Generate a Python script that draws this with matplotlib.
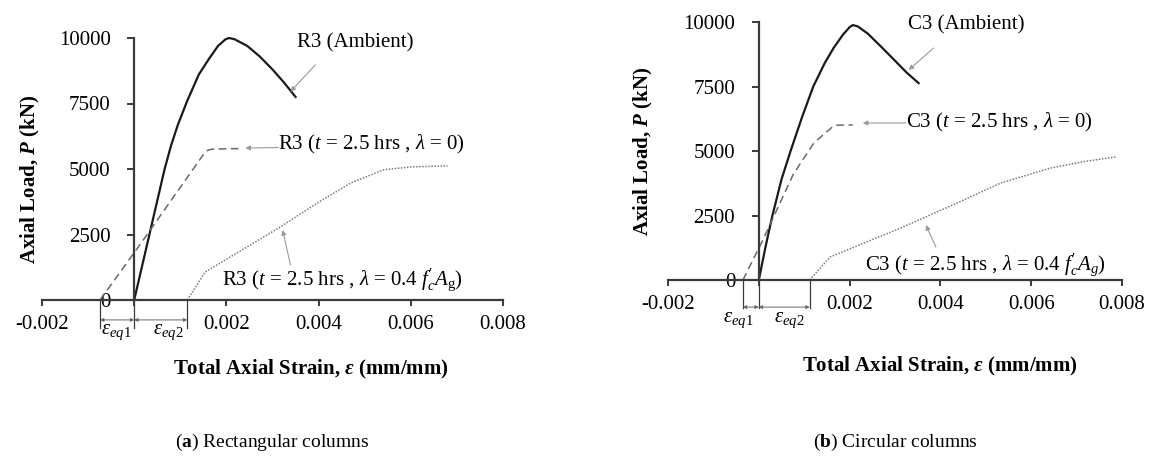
import numpy as np
import matplotlib.pyplot as plt

plt.rcParams['font.family'] = ['Liberation Serif', 'DejaVu Serif']
plt.rcParams['mathtext.fontset'] = 'custom'
plt.rcParams['mathtext.rm'] = 'Liberation Serif'
plt.rcParams['mathtext.it'] = 'Liberation Serif:italic'
plt.rcParams['mathtext.bf'] = 'Liberation Serif:bold'
plt.rcParams['mathtext.bfit'] = 'Liberation Serif:bold:italic'

# ---- data: strain (mm/mm), load (kN) ----
# (a) rectangular columns
r_amb_x = [0, 0.00033, 0.00066, 0.0008, 0.00095, 0.00115, 0.0014, 0.00162, 0.00182,
           0.00198, 0.00206, 0.00218, 0.00245, 0.00272, 0.003, 0.00325, 0.0035]
r_amb_y = [0, 2500, 5000, 5900, 6700, 7600, 8600, 9200, 9700,
           9950, 10000, 9950, 9700, 9300, 8800, 8300, 7750]
r_fire_x = [-0.00074, 0.0001, 0.001, 0.0015, 0.0016, 0.0017, 0.0023]
r_fire_y = [0, 2050, 4300, 5550, 5720, 5760, 5780]
r_load_x = [0.00115, 0.00154, 0.00252, 0.00317, 0.00398, 0.0047, 0.00541, 0.006, 0.0068]
r_load_y = [0, 1070, 2100, 2790, 3710, 4470, 4970, 5080, 5120]

# (b) circular columns
c_amb_x = [0, 0.00015, 0.0003, 0.0005, 0.0007, 0.00095, 0.0012, 0.00145, 0.00165, 0.00185,
           0.002, 0.00207, 0.00218, 0.0024, 0.00269, 0.003, 0.00325, 0.00352]
c_amb_y = [0, 1300, 2500, 3900, 5000, 6300, 7500, 8400, 9000, 9500,
           9800, 9880, 9830, 9550, 9050, 8500, 8050, 7630]
c_fire_x = [-0.00035, 0.00009, 0.00076, 0.00121, 0.0014, 0.0016, 0.0017, 0.00207]
c_fire_y = [0, 1550, 4100, 5300, 5600, 5900, 6000, 6010]
c_load_x = [0.00112, 0.00157, 0.00313, 0.0042, 0.00533, 0.00643, 0.0072, 0.00786]
c_load_y = [0, 890, 2020, 2850, 3760, 4340, 4600, 4770]

xticks = [-0.002, 0, 0.002, 0.004, 0.006, 0.008]
xticklabels = ['-0.002', '', '0.002', '0.004', '0.006', '0.008']
yticks = [0, 2500, 5000, 7500, 10000]
yticklabels = ['0', '2500', '5000', '7500', '10000']

AX = '#3a3a3a'
ARR = '#9a9a9a'
FS = 15

fig = plt.figure(figsize=(11.55, 4.66), dpi=100)
axL = fig.add_axes([42 / 1155, 1 - 300 / 466, 461 / 1155, 262 / 466])
axR = fig.add_axes([668 / 1155, 1 - 280 / 466, 454 / 1155, 258 / 466])


def setup(ax):
    ax.set_xlim(-0.002, 0.008)
    ax.set_ylim(0, 10000)
    for s in ['top', 'right']:
        ax.spines[s].set_visible(False)
    ax.spines['left'].set_position(('data', 0))
    ax.spines['bottom'].set_position(('data', 0))
    for s in ['left', 'bottom']:
        ax.spines[s].set_color(AX)
        ax.spines[s].set_linewidth(1.6)
    ax.set_xticks(xticks)
    ax.set_xticklabels(xticklabels)
    ax.set_yticks(yticks)
    ax.set_yticklabels(yticklabels)
    ax.tick_params(axis='x', direction='out', length=4, width=1.4, color=AX, pad=7, labelsize=FS)
    ax.tick_params(axis='y', direction='out', length=5, width=1.4, color=AX, pad=12, labelsize=FS)
    ax.patch.set_visible(False)


def arrow(ax, tip, start):
    ax.annotate('', xy=tip, xytext=start,
                arrowprops=dict(arrowstyle='-|>', color=ARR, lw=0.8,
                                mutation_scale=7, shrinkA=0, shrinkB=0),
                annotation_clip=False)


def dims(ax, x0, x2, yline, ybar, ylab, lab1x, lab2x):
    for x in (x0, 0, x2):
        ax.plot([x, x], [0, yline], color=AX, lw=0.9, clip_on=False)
    for a, b in ((x0, 0), (0, x2)):
        ax.annotate('', xy=(a, ybar), xytext=(b, ybar),
                    arrowprops=dict(arrowstyle='<|-|>', color='#666666', lw=0.7,
                                    mutation_scale=5, shrinkA=0, shrinkB=0),
                    annotation_clip=False)
    ax.text(lab1x, ylab, r'$\varepsilon_{eq1}$', fontsize=FS, ha='center', va='center', clip_on=False)
    ax.text(lab2x, ylab, r'$\varepsilon_{eq2}$', fontsize=FS, ha='center', va='center', clip_on=False)


for ax in (axL, axR):
    setup(ax)

# ---- (a) ----
axL.plot(r_amb_x, r_amb_y, color='#1a1a1a', lw=1.6, clip_on=False)
axL.plot(r_fire_x, r_fire_y, color='#6a6a6a', lw=1.1, ls=(0, (5, 3)), clip_on=False)
axL.plot(r_load_x, r_load_y, color='#7a7a7a', lw=1.1, ls=(0, (1, 1)), clip_on=False)

axL.text(0.00354, 9800, 'R3 (Ambient)', fontsize=FS, va='center', clip_on=False)
arrow(axL, (0.00339, 7950), (0.00393, 8980))
axL.text(0.00313, 5950, r'R3 ($t$ = 2.5 hrs , $\lambda$ = 0)', fontsize=FS, va='center')
arrow(axL, (0.00241, 5800), (0.00313, 5820))
axL.text(0.00191, 760, r"R3 ($t$ = 2.5 hrs , $\lambda$ = 0.4 $f_c^{\prime}A_{\rm g}$)", fontsize=FS, va='center')
arrow(axL, (0.00322, 2670), (0.00339, 1340))
dims(axL, r_fire_x[0], r_load_x[0], -1050, -760, -1250, -0.00039, 0.00073)

axL.set_ylabel(r'Axial Load, $\mathbfit{P}$ (kN)', fontsize=FS, fontweight='bold')
axL.yaxis.set_label_coords(0.0, 0.46)
fig.text(311 / 1155, 1 - 369 / 466, r'Total Axial Strain, $\mathbfit{\varepsilon}$ (mm/mm)',
         fontsize=FS, fontweight='bold', ha='center', va='center')

# ---- (b) ----
axR.plot(c_amb_x, c_amb_y, color='#1a1a1a', lw=1.6, clip_on=False)
axR.plot(c_fire_x, c_fire_y, color='#6a6a6a', lw=1.1, ls=(0, (5, 3)), clip_on=False)
axR.plot(c_load_x, c_load_y, color='#7a7a7a', lw=1.1, ls=(0, (1, 1)), clip_on=False)

axR.text(0.00328, 9880, 'C3 (Ambient)', fontsize=FS, va='center', clip_on=False)
arrow(axR, (0.0033, 8140), (0.00385, 8990))
axR.text(0.00324, 6120, r'C3 ($t$ = 2.5 hrs , $\lambda$ = 0)', fontsize=FS, va='center')
arrow(axR, (0.00229, 6085), (0.00324, 6085))
axR.text(0.00233, 580, r"C3 ($t$ = 2.5 hrs , $\lambda$ = 0.4 $f_c^{\prime}A_g$)", fontsize=FS, va='center')
arrow(axR, (0.00368, 2130), (0.0039, 1280))
dims(axR, c_fire_x[0], c_load_x[0], -1100, -1050, -1550, -0.00045, 0.00066)

axR.set_ylabel(r'Axial Load, $\mathbfit{P}$ (kN)', fontsize=FS, fontweight='bold')
axR.yaxis.set_label_coords(-0.029, 0.5)
fig.text(940 / 1155, 1 - 366 / 466, r'Total Axial Strain, $\mathbfit{\varepsilon}$ (mm/mm)',
         fontsize=FS, fontweight='bold', ha='center', va='center')

# captions
fig.text(272 / 1155, 1 - 442 / 466, r'($\mathbf{a}$) Rectangular columns', fontsize=14, ha='center', va='center')
fig.text(895 / 1155, 1 - 442 / 466, r'($\mathbf{b}$) Circular columns', fontsize=14, ha='center', va='center')

fig.savefig('out.png', dpi=100)
